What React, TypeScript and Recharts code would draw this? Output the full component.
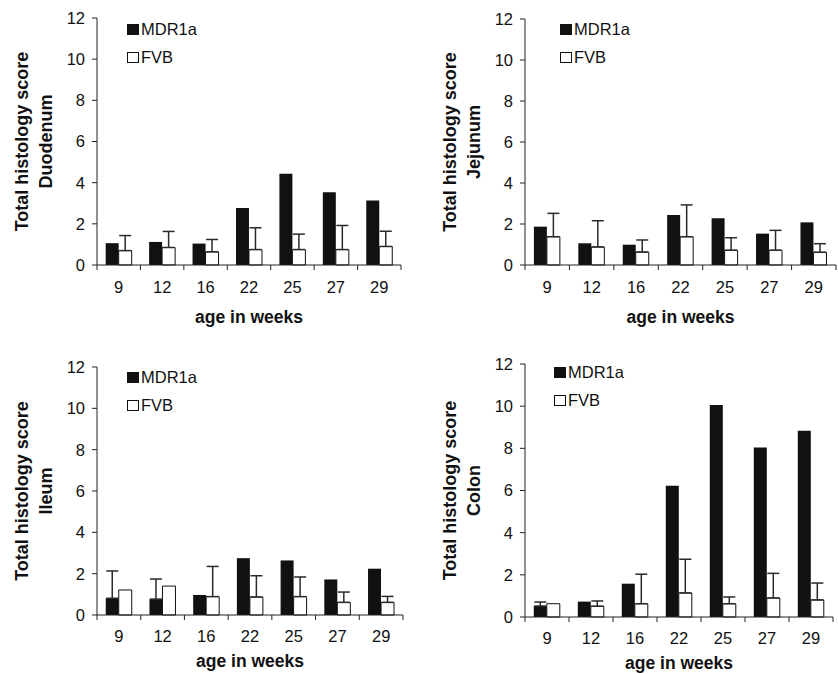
import React from 'react';
import { BarChart, Bar, XAxis, YAxis, ErrorBar, Legend, Label } from 'recharts';

const weeks = ['9', '12', '16', '22', '25', '27', '29'];
const yTicks = [0, 2, 4, 6, 8, 10, 12];

// Duodenum
const duodenumMdr = [1.06, 1.12, 1.04, 2.77, 4.43, 3.53, 3.13];
const duodenumMdrErr = [null, null, null, null, null, null, null];
const duodenumFvb = [0.7, 0.85, 0.64, 0.75, 0.75, 0.75, 0.9];
const duodenumFvbErr = [0.73, 0.78, 0.6, 1.06, 0.75, 1.17, 0.74];

// Jejunum
const jejunumMdr = [1.87, 1.06, 0.99, 2.44, 2.28, 1.53, 2.08];
const jejunumMdrErr = [null, null, null, null, null, null, null];
const jejunumFvb = [1.38, 0.88, 0.63, 1.38, 0.72, 0.72, 0.62];
const jejunumFvbErr = [1.14, 1.28, 0.59, 1.55, 0.61, 0.97, 0.42];

// Ileum
const ileumMdr = [0.81, 0.77, 0.97, 2.75, 2.64, 1.72, 2.24];
const ileumMdrErr = [1.32, 0.97, null, null, null, null, null];
const ileumFvb = [1.21, 1.4, 0.89, 0.87, 0.89, 0.61, 0.61];
const ileumFvbErr = [null, null, 1.46, 1.03, 0.95, 0.5, 0.29];

// Colon
const colonMdr = [0.52, 0.73, 1.58, 6.23, 10.06, 8.04, 8.83];
const colonMdrErr = [0.19, null, null, null, null, null, null];
const colonFvb = [0.63, 0.51, 0.63, 1.14, 0.63, 0.9, 0.81];
const colonFvbErr = [null, 0.25, 1.4, 1.6, 0.32, 1.17, 0.8];

const series = [
  { key: 'mdr', name: 'MDR1a', fill: '#111', stroke: 'none' },
  { key: 'fvb', name: 'FVB', fill: '#fff', stroke: '#111' },
];

const FONT = '"Liberation Sans", Arial, Helvetica, sans-serif';
const INK = '#111';
const AXIS = '#222';
const Y_AXIS_W = 50;

type Vals = (number | null)[];

function buildRows(mdr: Vals, mdrErr: Vals, fvb: Vals, fvbErr: Vals) {
  return weeks.map((w, i) => ({
    week: w,
    mdr: mdr[i],
    fvb: fvb[i],
    mdrErr: mdrErr[i] != null ? [0, mdrErr[i]] : null,
    fvbErr: fvbErr[i] != null ? [0, fvbErr[i]] : null,
  }));
}

const panels = [
  {
    organ: 'Duodenum',
    rows: buildRows(duodenumMdr, duodenumMdrErr, duodenumFvb, duodenumFvbErr),
    left: 0, top: 0, width: 419, height: 330,
    margin: { top: 18, right: 18, bottom: 0, left: 47 },
    xAxisHeight: 65, tickDy: 22, labelOffset: 46,
    legend: { left: 127, top: 15 },
  },
  {
    organ: 'Jejunum',
    rows: buildRows(jejunumMdr, jejunumMdrErr, jejunumFvb, jejunumFvbErr),
    left: 419, top: 0, width: 419, height: 330,
    margin: { top: 19, right: 2, bottom: 0, left: 56 },
    xAxisHeight: 65, tickDy: 22, labelOffset: 46,
    legend: { left: 141, top: 15 },
  },
  {
    organ: 'Ileum',
    rows: buildRows(ileumMdr, ileumMdrErr, ileumFvb, ileumFvbErr),
    left: 0, top: 335, width: 419, height: 339,
    margin: { top: 32, right: 16, bottom: 0, left: 47 },
    xAxisHeight: 59, tickDy: 21, labelOffset: 40,
    legend: { left: 127, top: 28 },
  },
  {
    organ: 'Colon',
    rows: buildRows(colonMdr, colonMdrErr, colonFvb, colonFvbErr),
    left: 419, top: 335, width: 419, height: 339,
    margin: { top: 29, right: 5, bottom: 0, left: 56 },
    xAxisHeight: 57, tickDy: 21, labelOffset: 40,
    legend: { left: 135, top: 23 },
  },
];

// excel style: tick marks sit between the categories
function WeekTick(props: any) {
  const { x, y, payload, index, visibleTicksCount, tickDy, band } = props;
  const half = payload?.offset ?? band / 2;
  const axisY = y - 5;
  const last = index === (visibleTicksCount ?? weeks.length) - 1;
  return (
    <g>
      <line x1={x - half} x2={x - half} y1={axisY} y2={axisY + 5} stroke={AXIS} />
      {last && <line x1={x + half} x2={x + half} y1={axisY} y2={axisY + 5} stroke={AXIS} />}
      <text x={x} y={axisY + tickDy + 6} textAnchor="middle" fontSize={16.5} fill={INK}>
        {payload.value}
      </text>
    </g>
  );
}

function LegendBox() {
  return (
    <div style={{ fontFamily: FONT }}>
      {series.map((s) => (
        <div key={s.key} style={{ display: 'flex', alignItems: 'center', height: 28 }}>
          <span
            style={{
              display: 'inline-block',
              width: 12,
              height: 11,
              boxSizing: 'border-box',
              background: s.fill,
              border: s.stroke === 'none' ? 'none' : `1.5px solid ${s.stroke}`,
              marginRight: 2,
            }}
          />
          <span style={{ fontSize: 16.5, color: INK }}>{s.name}</span>
        </div>
      ))}
    </div>
  );
}

function Panel({ p }: { p: (typeof panels)[number] }) {
  const plotW = p.width - p.margin.left - p.margin.right - Y_AXIS_W;
  const plotH = p.height - p.margin.top - p.xAxisHeight;
  const axisX = p.margin.left + Y_AXIS_W;
  const midY = p.margin.top + plotH / 2;

  const yTitle = () => (
    <g fontFamily={FONT} fontSize={18} fontWeight="bold" fill={INK}>
      <text
        x={axisX - 75}
        y={midY}
        textAnchor="middle"
        dominantBaseline="central"
        transform={`rotate(-90 ${axisX - 75} ${midY})`}
      >
        Total histology score
      </text>
      <text
        x={axisX - 51}
        y={midY}
        textAnchor="middle"
        dominantBaseline="central"
        transform={`rotate(-90 ${axisX - 51} ${midY})`}
      >
        {p.organ}
      </text>
    </g>
  );

  return (
    <div style={{ position: 'absolute', left: p.left, top: p.top }}>
      <BarChart
        width={p.width}
        height={p.height}
        data={p.rows}
        margin={p.margin}
        barCategoryGap="20%"
        barGap={0}
      >
        <XAxis
          dataKey="week"
          interval={0}
          height={p.xAxisHeight}
          tickLine={false}
          tickSize={5}
          tickMargin={0}
          axisLine={{ stroke: AXIS }}
          tick={(tp: any) => <WeekTick {...tp} tickDy={p.tickDy} band={plotW / weeks.length} />}
        >
          <Label
            value="age in weeks"
            position="insideTop"
            offset={p.labelOffset}
            fontSize={17.5}
            fontWeight="bold"
            fill={INK}
          />
        </XAxis>
        <YAxis
          type="number"
          domain={[0, 12]}
          ticks={yTicks}
          interval={0}
          width={Y_AXIS_W}
          tickSize={5}
          tickMargin={7}
          axisLine={{ stroke: AXIS }}
          tickLine={{ stroke: AXIS }}
          tick={{ fill: INK, fontSize: 16.5 }}
        >
          <Label content={yTitle} />
        </YAxis>
        <Legend
          layout="vertical"
          align="center"
          verticalAlign="middle"
          content={() => <LegendBox />}
          wrapperStyle={{ left: p.legend.left, top: p.legend.top, width: 'auto', height: 'auto' }}
        />
        {series.map((s) => (
          <Bar
            key={s.key}
            dataKey={s.key}
            name={s.name}
            fill={s.fill}
            stroke={s.stroke}
            strokeWidth={1}
            isAnimationActive={false}
          >
            <ErrorBar
              dataKey={`${s.key}Err`}
              direction="y"
              width={6}
              stroke="#2a2a2a"
              strokeWidth={1.5}
              isAnimationActive={false}
            />
          </Bar>
        ))}
      </BarChart>
    </div>
  );
}

export default function App() {
  return (
    <div
      style={{
        position: 'absolute',
        left: 0,
        top: 0,
        width: 838,
        height: 674,
        background: '#fff',
        fontFamily: FONT,
        overflow: 'hidden',
      }}
    >
      {panels.map((p) => (
        <Panel key={p.organ} p={p} />
      ))}
    </div>
  );
}
